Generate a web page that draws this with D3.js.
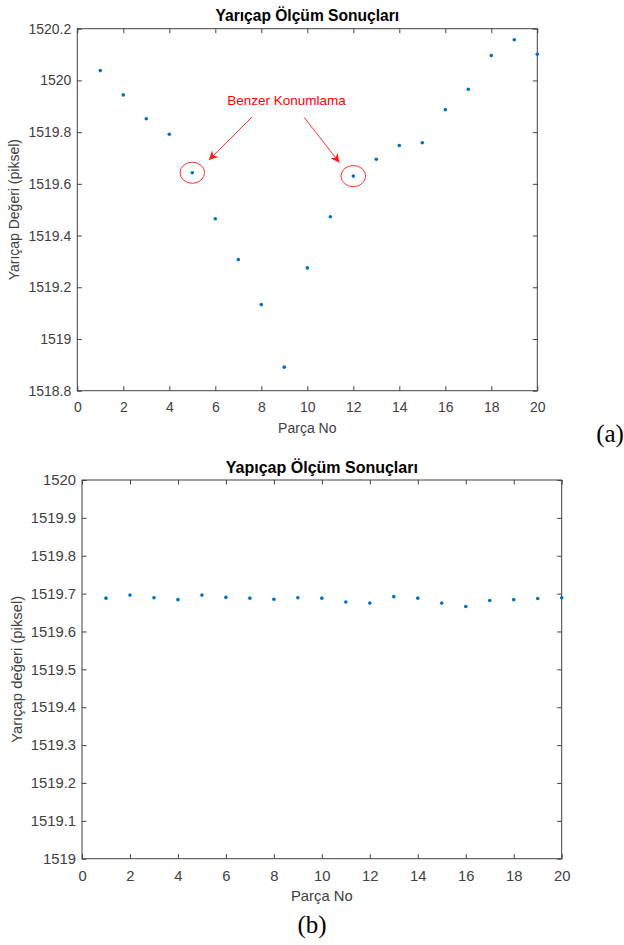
<!DOCTYPE html>
<html>
<head>
<meta charset="utf-8">
<script src="https://cdn.jsdelivr.net/npm/d3@7"></script>
<style>
  body { margin: 0; background: #fff; }
  svg { display: block; font-family: "Liberation Sans", Arial, sans-serif; }
</style>
</head>
<body>
<div id="main"></div>
<script>
const partNo = [1, 2, 3, 4, 5, 6, 7, 8, 9, 10, 11, 12, 13, 14, 15, 16, 17, 18, 19, 20];
const radiusA = [1520.038, 1519.944, 1519.852, 1519.792, 1519.643, 1519.465, 1519.307, 1519.133, 1518.891, 1519.275,
                 1519.473, 1519.630, 1519.695, 1519.748, 1519.759, 1519.887, 1519.966, 1520.096, 1520.157, 1520.101];
const radiusB = [1519.688, 1519.696, 1519.689, 1519.684, 1519.696, 1519.690, 1519.688, 1519.685, 1519.689, 1519.688,
                 1519.678, 1519.675, 1519.692, 1519.688, 1519.675, 1519.666, 1519.682, 1519.684, 1519.687, 1519.689];

const xTicks = [0, 2, 4, 6, 8, 10, 12, 14, 16, 18, 20];
const yTicksA = [1518.8, 1519, 1519.2, 1519.4, 1519.6, 1519.8, 1520, 1520.2];
const yTicksB = [1519, 1519.1, 1519.2, 1519.3, 1519.4, 1519.5, 1519.6, 1519.7, 1519.8, 1519.9, 1520];

// annotation on panel (a): circled parts, arrow start/end in data units
const similarParts = [5, 12];
const annotText = "Benzer Konumlama";
const annotTextPos = [9.1, 1519.905];
const annotArrows = [
    { from: [7.58, 1519.857], to: [5.72, 1519.692] },
    { from: [9.86, 1519.857], to: [11.4, 1519.682] }
];

const layoutA = { left: 77.3, right: 537.3, top: 28.7, bottom: 390.7, font: 14, title: 15.6, pad: 11, ylab: 63 };
const layoutB = { left: 82, right: 561.7, top: 480, bottom: 858.7, font: 14.8, title: 16, pad: 12, ylab: 65.5 };

const axisColor = "#404040";
const dotColor = "#0072bd";

const svg = d3.select("#main").append("svg")
    .attr("width", 624)
    .attr("height", 945);

svg.append("defs").append("marker")
    .attr("id", "arrowhead")
    .attr("viewBox", "0 0 10 10")
    .attr("refX", 10)
    .attr("refY", 5)
    .attr("markerWidth", 11)
    .attr("markerHeight", 9)
    .attr("markerUnits", "userSpaceOnUse")
    .attr("orient", "auto")
    .append("path")
    .attr("d", "M0,0 L10,5 L0,10 L3,5 Z")
    .attr("fill", "#ff1a1a");

const fmt = d => String(+d.toFixed(1));

function drawPanel(lay, yDomain, yTicks, values, title, yLabel) {
    const x = d3.scaleLinear().domain([0, 20]).range([lay.left, lay.right]);
    const y = d3.scaleLinear().domain(yDomain).range([lay.bottom, lay.top]);
    const g = svg.append("g");

    // box
    g.append("rect")
        .attr("x", lay.left).attr("y", lay.top)
        .attr("width", lay.right - lay.left).attr("height", lay.bottom - lay.top)
        .attr("fill", "none").attr("stroke", axisColor).attr("stroke-width", 1);

    const tick = -4.5;
    const xb = g.append("g").attr("transform", `translate(0,${lay.bottom})`)
        .call(d3.axisBottom(x).tickValues(xTicks).tickFormat(fmt).tickSizeInner(tick).tickSizeOuter(0).tickPadding(lay.pad));
    const xt = g.append("g").attr("transform", `translate(0,${lay.top})`)
        .call(d3.axisTop(x).tickValues(xTicks).tickFormat("").tickSizeInner(tick).tickSizeOuter(0));
    const yl = g.append("g").attr("transform", `translate(${lay.left},0)`)
        .call(d3.axisLeft(y).tickValues(yTicks).tickFormat(fmt).tickSizeInner(tick).tickSizeOuter(0).tickPadding(6));
    const yr = g.append("g").attr("transform", `translate(${lay.right},0)`)
        .call(d3.axisRight(y).tickValues(yTicks).tickFormat("").tickSizeInner(tick).tickSizeOuter(0));

    [xb, xt, yl, yr].forEach(a => {
        a.select(".domain").remove();
        a.selectAll("line").attr("stroke", axisColor);
        a.selectAll("text").attr("fill", axisColor)
            .attr("font-size", lay.font)
            .attr("font-family", "Liberation Sans, Arial, sans-serif");
    });

    // title
    g.append("text")
        .attr("x", (lay.left + lay.right) / 2)
        .attr("y", lay.top - 7.5)
        .attr("text-anchor", "middle")
        .attr("font-weight", "bold")
        .attr("font-size", lay.title)
        .attr("fill", "#000")
        .text(title);

    // axis titles
    g.append("text")
        .attr("x", (lay.left + lay.right) / 2)
        .attr("y", lay.bottom + 42)
        .attr("text-anchor", "middle")
        .attr("font-size", lay.font)
        .attr("fill", axisColor)
        .text("Parça No");

    g.append("text")
        .attr("transform", `translate(${lay.left - lay.ylab},${(lay.top + lay.bottom) / 2}) rotate(-90)`)
        .attr("text-anchor", "middle")
        .attr("dy", "0.35em")
        .attr("font-size", lay.font)
        .attr("fill", axisColor)
        .text(yLabel);

    // points
    g.selectAll(".dot")
        .data(partNo)
        .enter().append("circle")
        .attr("class", "dot")
        .attr("cx", (d, i) => x(d))
        .attr("cy", (d, i) => y(values[i]))
        .attr("r", 1.8)
        .attr("fill", dotColor);

    return { x, y, g };
}

const panelA = drawPanel(layoutA, [1518.8, 1520.2], yTicksA, radiusA, "Yarıçap Ölçüm Sonuçları", "Yarıçap Değeri (piksel)");
const panelB = drawPanel(layoutB, [1519, 1520], yTicksB, radiusB, "Yapıçap Ölçüm Sonuçları", "Yarıçap değeri (piksel)");

// annotation on panel (a)
panelA.g.selectAll(".ring")
    .data(similarParts)
    .enter().append("ellipse")
    .attr("class", "ring")
    .attr("cx", d => panelA.x(d))
    .attr("cy", d => panelA.y(radiusA[d - 1]))
    .attr("rx", 12.3)
    .attr("ry", 10.6)
    .attr("fill", "none")
    .attr("stroke", "#ff3030")
    .attr("stroke-width", 1);

panelA.g.selectAll(".arrow")
    .data(annotArrows)
    .enter().append("line")
    .attr("class", "arrow")
    .attr("x1", d => panelA.x(d.from[0]))
    .attr("y1", d => panelA.y(d.from[1]))
    .attr("x2", d => panelA.x(d.to[0]))
    .attr("y2", d => panelA.y(d.to[1]))
    .attr("stroke", "#ff3030")
    .attr("stroke-width", 1)
    .attr("marker-end", "url(#arrowhead)");

panelA.g.append("text")
    .attr("x", panelA.x(annotTextPos[0]))
    .attr("y", panelA.y(annotTextPos[1]))
    .attr("text-anchor", "middle")
    .attr("font-size", 13.5)
    .attr("fill", "#ff0000")
    .text(annotText);

// panel letters
svg.append("text")
    .attr("x", 610).attr("y", 442)
    .attr("text-anchor", "middle")
    .attr("font-family", "Liberation Serif, Times New Roman, serif")
    .attr("font-size", 25)
    .attr("fill", "#000")
    .text("(a)");

svg.append("text")
    .attr("x", 312).attr("y", 933)
    .attr("text-anchor", "middle")
    .attr("font-family", "Liberation Serif, Times New Roman, serif")
    .attr("font-size", 25)
    .attr("fill", "#000")
    .text("(b)");
</script>
</body>
</html>
